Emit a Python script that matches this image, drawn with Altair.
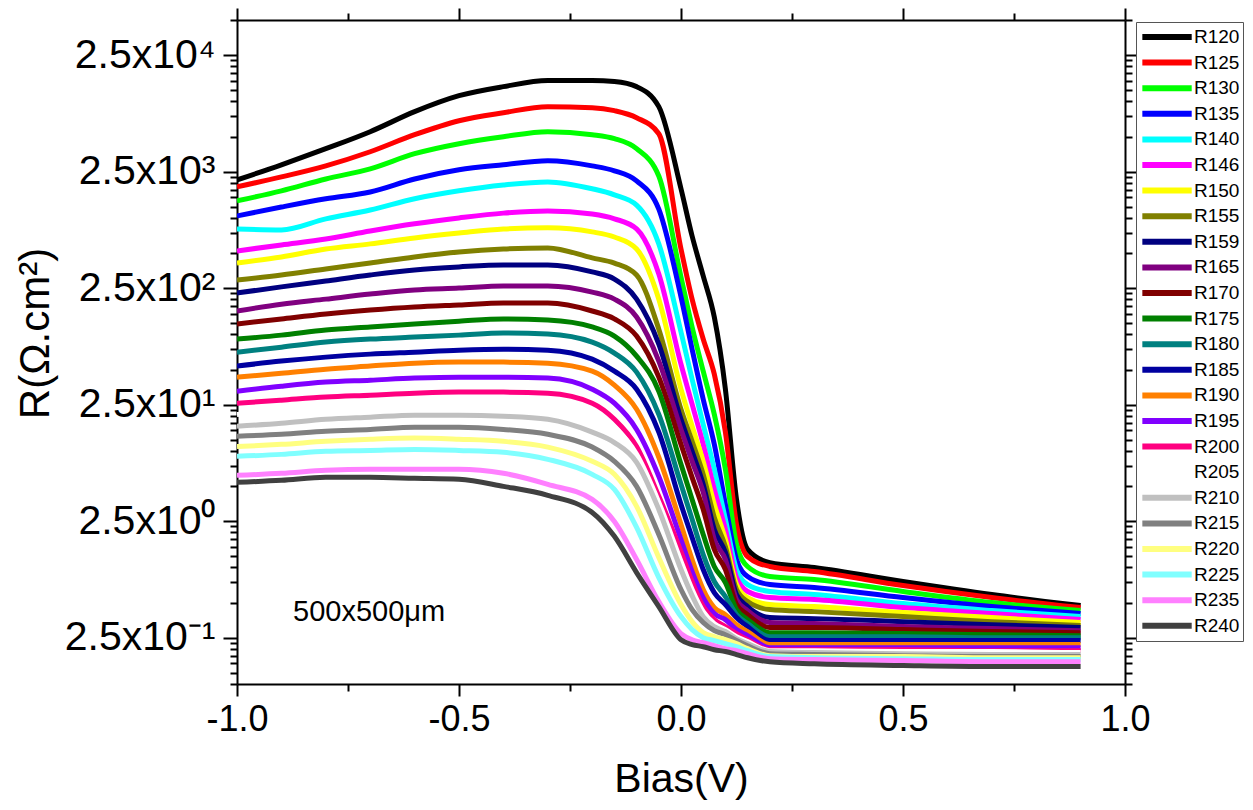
import altair as alt
import pandas as pd

# ---------------- data ----------------
BIAS = [-1.0, -0.9, -0.8, -0.7, -0.6, -0.5, -0.4, -0.3, -0.2, -0.15, -0.1, -0.05,
        0.0, 0.025, 0.05, 0.075, 0.1, 0.125, 0.15, 0.2, 0.3, 0.5, 0.7, 0.9]

SERIES = ["R120", "R125", "R130", "R135", "R140", "R146", "R150", "R155", "R159",
          "R165", "R170", "R175", "R180", "R185", "R190", "R195", "R200", "R205",
          "R210", "R215", "R220", "R225", "R235", "R240"]

COLORS = ["#000000", "#FF0000", "#00FF00", "#0000FF", "#00FFFF", "#FF00FF", "#FFFF00",
          "#808000", "#000080", "#800080", "#800000", "#008000", "#008080", "#0000A0",
          "#FF8000", "#8000FF", "#FF0080", "#FFFFFF", "#C0C0C0", "#808080", "#FFFF80",
          "#80FFFF", "#FF80FF", "#404040"]

R120 = [2120, 2860, 3930, 5500, 8170, 11200, 13400, 15100, 15100, 14800, 13400, 9020,
        1780, 700, 318, 141, 33.9, 3.84, 1.43, 1.10, 1.00, 0.758, 0.586, 0.471]
R125 = [1850, 2250, 2800, 3700, 5180, 6830, 8000, 9020, 8840, 8330, 7250, 5280,
        542, 201, 91.3, 45.6, 14.5, 2.34, 1.24, 1.02, 0.923, 0.700, 0.552, 0.453]
R130 = [1400, 1710, 2160, 2640, 3560, 4340, 4980, 5500, 5180, 4790, 3930, 2290,
        311, 116, 48.4, 20.6, 6.96, 1.58, 1.02, 0.837, 0.788, 0.622, 0.500, 0.427]
R135 = [1040, 1240, 1460, 1670, 2160, 2590, 2860, 3100, 2800, 2540, 2080, 1190,
        210, 74.7, 27.8, 11.4, 3.48, 1.17, 0.837, 0.714, 0.673, 0.552, 0.462, 0.402]
R140 = [805, 790, 983, 1170, 1460, 1710, 1920, 2040, 1780, 1580, 1290, 599,
        105, 41.3, 16.9, 6.96, 2.59, 0.961, 0.714, 0.622, 0.586, 0.490, 0.427, 0.379]
R146 = [521, 587, 660, 773, 891, 1000, 1100, 1150, 1080, 983, 805, 330,
        55.6, 25.2, 11.4, 4.68, 2.12, 0.820, 0.622, 0.552, 0.531, 0.453, 0.402, 0.357]
R150 = [410, 463, 542, 599, 674, 742, 805, 822, 759, 686, 542, 201,
        33.9, 16.3, 8.15, 3.48, 1.74, 0.714, 0.552, 0.481, 0.462, 0.410, 0.372, 0.337]
R155 = [293, 324, 365, 410, 463, 511, 542, 553, 454, 410, 324, 111,
        22.8, 12.1, 6.30, 2.69, 1.51, 0.647, 0.510, 0.435, 0.418, 0.379, 0.343, 0.317]
R159 = [227, 256, 288, 324, 358, 380, 395, 395, 344, 299, 201, 82.5,
        18.7, 9.94, 5.17, 2.12, 1.35, 0.586, 0.462, 0.372, 0.364, 0.343, 0.323, 0.305]
R165 = [159, 182, 201, 222, 241, 250, 261, 261, 231, 201, 141, 59.1,
        15.3, 8.15, 4.41, 1.74, 1.17, 0.531, 0.427, 0.337, 0.330, 0.311, 0.299, 0.287]
R170 = [123, 136, 150, 162, 172, 179, 186, 186, 159, 136, 96.8, 43.0,
        11.4, 5.94, 3.15, 1.43, 0.961, 0.481, 0.394, 0.305, 0.305, 0.293, 0.282, 0.276]
R175 = [91.3, 98.7, 109, 116, 123, 130, 136, 133, 116, 96.8, 65.2, 32.6,
        7.68, 3.84, 1.92, 1.02, 0.743, 0.435, 0.357, 0.276, 0.276, 0.271, 0.265, 0.260]
R180 = [70.5, 77.8, 86.0, 91.3, 95.0, 98.7, 103, 101, 86.0, 69.2, 47.5, 20.6,
        5.17, 2.59, 1.29, 0.758, 0.563, 0.394, 0.330, 0.255, 0.255, 0.255, 0.250, 0.250]
R185 = [53.5, 59.1, 63.9, 67.8, 70.5, 73.3, 74.7, 73.3, 61.4, 48.4, 33.9, 14.5,
        3.48, 1.81, 0.961, 0.609, 0.481, 0.372, 0.311, 0.236, 0.236, 0.236, 0.236, 0.236]
R190 = [43.0, 46.5, 50.4, 53.5, 56.7, 57.9, 57.9, 56.7, 48.4, 36.7, 22.8, 8.83,
        2.34, 1.17, 0.647, 0.453, 0.394, 0.323, 0.282, 0.218, 0.218, 0.218, 0.218, 0.218]
R195 = [32.6, 36.0, 39.0, 40.5, 42.2, 43.0, 43.0, 42.2, 33.9, 25.7, 15.3, 6.05,
        1.74, 0.923, 0.552, 0.402, 0.357, 0.293, 0.260, 0.205, 0.205, 0.205, 0.205, 0.205]
R200 = [25.7, 27.3, 29.0, 30.1, 31.3, 32.0, 32.0, 31.3, 25.7, 18.7, 10.9, 4.08,
        1.37, 0.758, 0.462, 0.357, 0.311, 0.271, 0.240, 0.197, 0.197, 0.197, 0.193, 0.193]
R205 = [20.6, 21.9, 23.3, 24.2, 25.2, 25.7, 25.7, 25.2, 21.0, 16.0, 9.35, 3.62,
        1.13, 0.647, 0.418, 0.330, 0.293, 0.255, 0.231, 0.193, 0.193, 0.190, 0.190, 0.186]
R210 = [16.3, 17.3, 18.7, 19.5, 20.3, 20.3, 19.9, 18.7, 14.5, 11.8, 7.99, 3.15,
        0.961, 0.574, 0.379, 0.311, 0.282, 0.245, 0.222, 0.190, 0.186, 0.182, 0.179, 0.179]
R215 = [13.4, 13.9, 14.8, 15.3, 16.0, 16.0, 15.3, 13.9, 10.8, 8.15, 4.97, 1.92,
        0.647, 0.435, 0.337, 0.287, 0.265, 0.236, 0.213, 0.182, 0.179, 0.175, 0.172, 0.172]
R220 = [10.9, 11.4, 12.1, 12.6, 12.9, 12.6, 12.1, 10.8, 8.15, 6.30, 3.35, 1.22,
        0.481, 0.343, 0.276, 0.255, 0.240, 0.222, 0.201, 0.175, 0.172, 0.172, 0.168, 0.168]
R225 = [9.00, 9.35, 9.94, 10.1, 10.3, 10.1, 9.74, 8.48, 6.30, 4.68, 2.21, 0.820,
        0.379, 0.293, 0.250, 0.236, 0.222, 0.209, 0.193, 0.172, 0.168, 0.165, 0.162, 0.162]
R235 = [6.18, 6.43, 6.82, 6.96, 6.96, 6.96, 6.43, 5.17, 3.84, 2.48, 1.17, 0.510,
        0.271, 0.240, 0.226, 0.213, 0.201, 0.193, 0.182, 0.165, 0.162, 0.159, 0.155, 0.155]
R240 = [5.38, 5.60, 5.94, 5.94, 5.83, 5.71, 4.97, 4.16, 2.97, 1.85, 0.905, 0.462,
        0.240, 0.218, 0.209, 0.197, 0.190, 0.179, 0.168, 0.155, 0.149, 0.144, 0.141, 0.141]

VALUES = [R120, R125, R130, R135, R140, R146, R150, R155, R159, R165, R170, R175,
          R180, R185, R190, R195, R200, R205, R210, R215, R220, R225, R235, R240]

X_TICKS = [-1.0, -0.75, -0.5, -0.25, 0.0, 0.25, 0.5, 0.75, 1.0]
X_MAJOR = [-1.0, -0.5, 0.0, 0.5, 1.0]
X_LABELS = ["-1.0", "-0.5", "0.0", "0.5", "1.0"]
Y_MAJOR = [0.25, 2.5, 25, 250, 2500, 25000]
Y_LABELS = ["2.5x10\u207b\u00b9", "2.5x10\u2070", "2.5x10\u00b9", "2.5x10\u00b2",
            "2.5x10\u00b3", "2.5x10\u2074"]
NOTE = "500x500\u03bcm"

FONT = "Liberation Sans"

# ---------------- table ----------------
rows = []
for name, vals in zip(SERIES, VALUES):
    for b, r in zip(BIAS, vals):
        rows.append({"bias": b, "R": r, "series": name})
df = pd.DataFrame(rows)

y_ticks = [round(0.025 * k, 6) for k in range(4, 10)] + \
          [b * k for b in Y_MAJOR for k in range(1, 10) if b * k <= 50000]


def label_expr(values, labels):
    expr = "''"
    for v, t in reversed(list(zip(values, labels))):
        expr = f"datum.value == {v} ? '{t}' : ({expr})"
    return expr


x_major_test = "indexof([" + ",".join(str(v) for v in X_MAJOR) + "], datum.value) >= 0"
y_major_test = "indexof([" + ",".join(str(v) for v in Y_MAJOR) + "], datum.value) >= 0"

x_scale = alt.Scale(domain=[-1, 1], nice=False, zero=False)
y_scale = alt.Scale(type="log", domain=[0.1, 50000], nice=False)

common_axis = dict(
    grid=False, domainColor="black", domainWidth=2, tickColor="black", tickWidth=2,
    labelOverlap=False, labelFlush=False,
)

x_axis = alt.Axis(
    values=X_TICKS, labelExpr=label_expr(X_MAJOR, X_LABELS),
    tickSize={"condition": {"test": x_major_test, "value": 12}, "value": 7},
    labelFont=FONT, labelFontSize=36, labelColor="black", labelPadding=6,
    title="Bias(V)", titleFont=FONT, titleFontSize=41, titleFontWeight="normal",
    titleColor="black", titleY=95, titleBaseline="middle", **common_axis,
)
y_axis = alt.Axis(
    values=y_ticks, labelExpr=label_expr(Y_MAJOR, Y_LABELS),
    tickSize={"condition": {"test": y_major_test, "value": 14}, "value": 7},
    labelFont=FONT, labelFontSize=41, labelColor="black", labelPadding=8,
    title="R(\u03a9.cm\u00b2)", titleFont=FONT, titleFontSize=42, titleFontWeight="normal",
    titleColor="black", titleX=-202, titleY=313, titleAngle=270, titleAlign="center",
    titleBaseline="middle", **common_axis,
)
x_axis_top = alt.Axis(
    orient="top", values=X_TICKS, labels=False, title=None,
    tickSize={"condition": {"test": x_major_test, "value": 12}, "value": 7},
    **common_axis,
)
y_axis_right = alt.Axis(
    orient="right", values=y_ticks, labels=False, title=None,
    tickSize={"condition": {"test": y_major_test, "value": 14}, "value": 7},
    **common_axis,
)

legend = alt.Legend(
    title=None, orient="none", legendX=899, legendY=2, direction="vertical",
    symbolType="M-1,0L4.7,0", symbolSize=300, symbolStrokeWidth=6,
    labelFont=FONT, labelFontSize=19, labelColor="black", labelOffset=31,
    rowPadding=1.6, padding=3, strokeColor="#555555", fillColor="white",
)

lines = alt.Chart(df).mark_line(strokeWidth=5, interpolate="monotone", clip=True,
                                strokeJoin="round").encode(
    x=alt.X("bias:Q", scale=x_scale, axis=x_axis),
    y=alt.Y("R:Q", scale=y_scale, axis=y_axis),
    color=alt.Color("series:N", scale=alt.Scale(domain=SERIES, range=COLORS),
                    sort=SERIES, legend=legend),
    order=alt.Order("bias:Q"),
)

frame = alt.Chart(df).mark_point(opacity=0, size=1).encode(
    x=alt.X("bias:Q", scale=x_scale, axis=x_axis_top),
    y=alt.Y("R:Q", scale=y_scale, axis=y_axis_right),
)

note = alt.Chart(pd.DataFrame({"t": [NOTE]})).mark_text(
    align="left", baseline="middle", font=FONT, fontSize=29, color="black"
).encode(text="t:N", x=alt.value(56), y=alt.value(592))

chart = alt.layer(lines, frame, note).resolve_axis(
    x="independent", y="independent"
).properties(
    width=888, height=664,
    autosize=alt.AutoSizeParams(type="none"),
    padding={"left": 229, "top": 12, "right": 120, "bottom": 118},
    background="white",
).configure_view(stroke=None)

chart.save("out.html", embed_options={"renderer": "svg", "actions": False})
